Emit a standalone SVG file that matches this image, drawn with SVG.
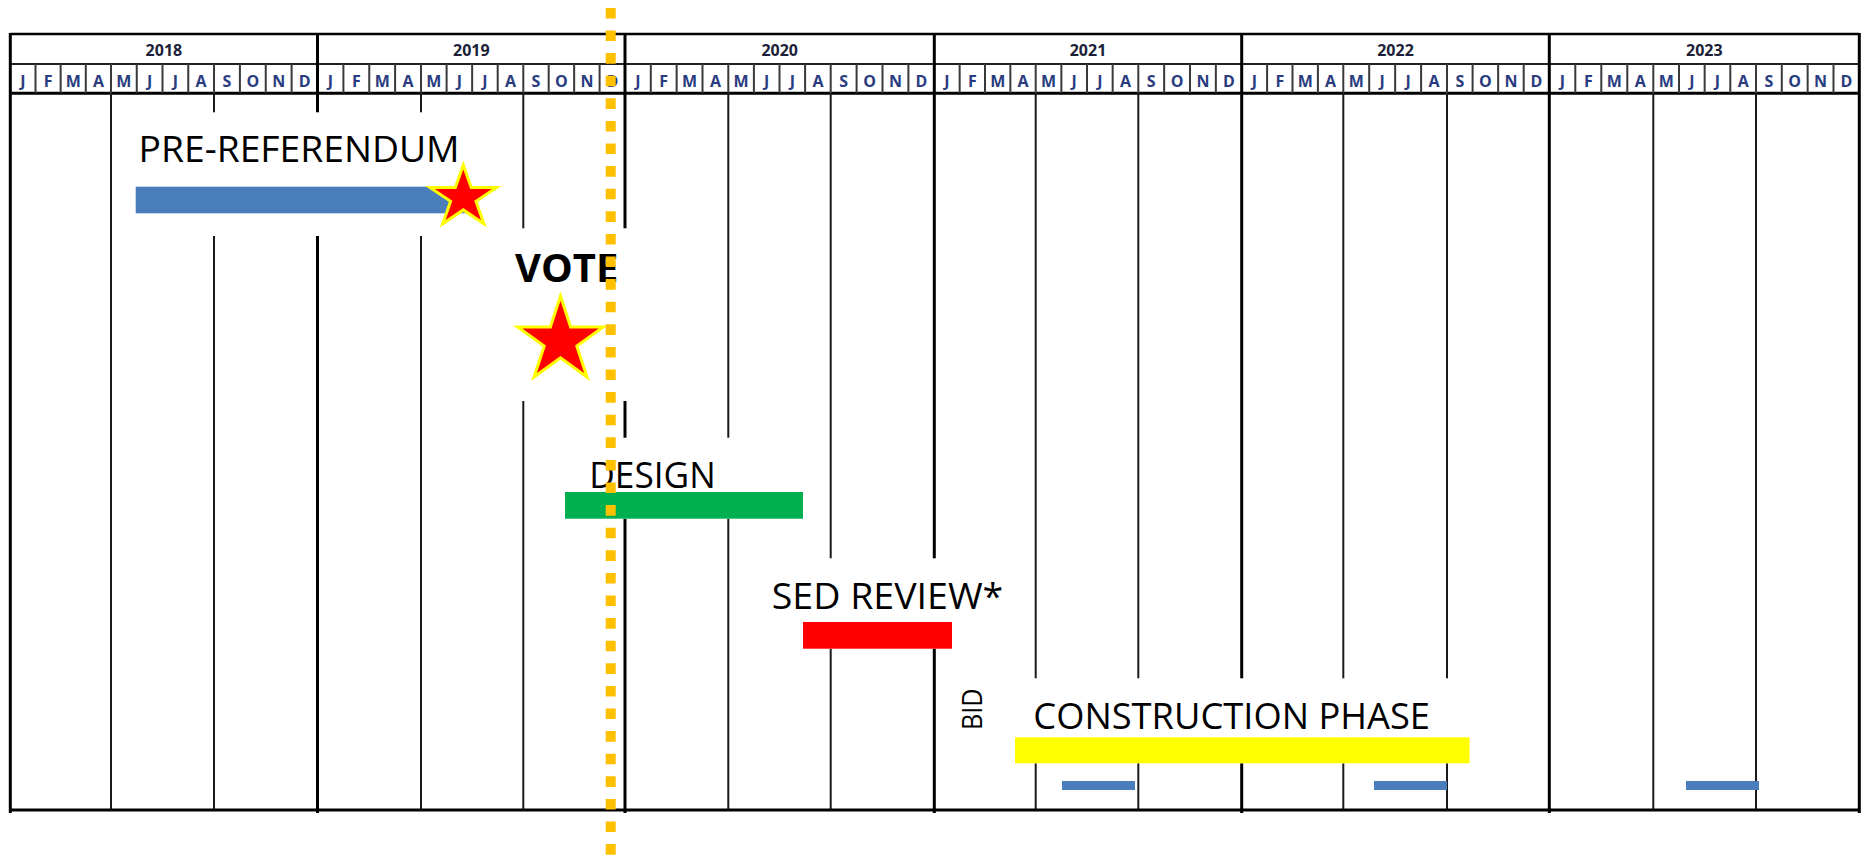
<svg xmlns="http://www.w3.org/2000/svg" width="1864" height="855" viewBox="0 0 1864 855">
<style>
.frame{stroke:#000;stroke-width:2.5;fill:none}
.yr{stroke:#000;stroke-width:3;fill:none}
.qt{stroke:#1a1a1a;stroke-width:2;fill:none}
.mo{stroke:#3a3a3a;stroke-width:2;fill:none}
.mask{fill:#fff}
.yl{font-family:"Open Sans","Liberation Sans",sans-serif;font-weight:bold;font-size:16px;fill:#1c1f3a;text-anchor:middle}
.ml{font-family:"Open Sans","Liberation Sans",sans-serif;font-weight:bold;font-size:16px;fill:#2a3c80;text-anchor:middle}
.lbl{font-family:"Open Sans","Liberation Sans",sans-serif;font-size:37px;fill:#000}
.star{fill:#ff0000;stroke:#ffff00;stroke-width:3;stroke-linejoin:miter;stroke-miterlimit:10}
.today{stroke:#ffc000;stroke-width:10;stroke-dasharray:10.6 12;fill:none}
</style>

<g id="grid">
  <rect x="0" y="0" width="1864" height="855" fill="#fff"/>
  <!-- header horizontal lines -->
  <path class="frame" d="M10.3 34H1859.3"/>
  <path stroke="#222" stroke-width="2" fill="none" d="M10.3 64H1859.3"/>
  <path stroke="#000" stroke-width="3" fill="none" d="M10.3 93.3H1859.3"/>
  <!-- month dividers in header -->
  <path class="mo" d="M35.5 64V93M60.65 64V93M85.8 64V93M111 64V93M136.75 64V93M162.5 64V93M188.25 64V93M214 64V93M239.9 64V93M265.75 64V93M291.6 64V93
  M343.4 64V93M369.25 64V93M395.1 64V93M421 64V93M446.6 64V93M472.15 64V93M497.7 64V93M523.3 64V93M548.7 64V93M574.15 64V93M599.6 64V93
  M650.8 64V93M676.65 64V93M702.5 64V93M728.3 64V93M753.9 64V93M779.5 64V93M805.1 64V93M830.7 64V93M856.6 64V93M882.5 64V93M908.4 64V93
  M959.65 64V93M985 64V93M1010.35 64V93M1035.7 64V93M1061.35 64V93M1087 64V93M1112.65 64V93M1138.3 64V93M1164.15 64V93M1190 64V93M1215.85 64V93
  M1267.1 64V93M1292.5 64V93M1317.9 64V93M1343.3 64V93M1369.2 64V93M1395.15 64V93M1421.1 64V93M1447 64V93M1472.6 64V93M1498.15 64V93M1523.7 64V93
  M1575.3 64V93M1601.3 64V93M1627.3 64V93M1653.3 64V93M1679 64V93M1704.65 64V93M1730.3 64V93M1756 64V93M1781.8 64V93M1807.65 64V93M1833.5 64V93"/>
  <!-- body 4-month lines -->
  <path class="qt" d="M111 93V810M214 93V810M421 93V810M523.3 93V810M728.3 93V810M830.7 93V810M1035.7 93V810M1138.3 93V810M1343.3 93V810M1447 93V810M1653.3 93V810M1756 93V810"/>
  <!-- bottom line -->
  <path stroke="#000" stroke-width="3" fill="none" d="M10.3 810H1859.3"/>
  <!-- year lines -->
  <path class="yr" d="M10.3 33V813M317.5 33V813M625 33V813M934.3 33V813M1241.7 33V813M1549.3 33V813M1859.3 33V813"/>
  <!-- year labels -->
  <text class="yl" x="163.9" y="55.5">2018</text>
  <text class="yl" x="471.3" y="55.5">2019</text>
  <text class="yl" x="779.7" y="55.5">2020</text>
  <text class="yl" x="1088" y="55.5">2021</text>
  <text class="yl" x="1395.5" y="55.5">2022</text>
  <text class="yl" x="1704.3" y="55.5">2023</text>
  <!-- month labels -->
  <text class="ml" y="87" x="22.9 48.1 73.2 98.4 123.9 149.6 175.4 201.1 227 252.8 278.7 304.6">JFMAMJJASOND</text>
  <text class="ml" y="87" x="330.5 356.3 382.2 408.1 433.8 459.4 484.9 510.5 536 561.4 586.9 612.3">JFMAMJJASOND</text>
  <text class="ml" y="87" x="637.9 663.7 689.6 715.4 741.1 766.7 792.3 817.9 843.7 869.6 895.5 921.4">JFMAMJJASOND</text>
  <text class="ml" y="87" x="947 972.3 997.7 1023 1048.5 1074.2 1099.8 1125.5 1151.2 1177.1 1202.9 1228.8">JFMAMJJASOND</text>
  <text class="ml" y="87" x="1254.4 1279.8 1305.2 1330.6 1356.3 1382.2 1408.1 1434.1 1459.8 1485.4 1510.9 1536.5">JFMAMJJASOND</text>
  <text class="ml" y="87" x="1562.3 1588.3 1614.3 1640.3 1666.2 1691.8 1717.5 1743.2 1768.9 1794.7 1820.6 1846.4">JFMAMJJASOND</text>
</g>

<g id="pre-referendum">
  <rect class="mask" x="120" y="112.3" width="388" height="123.7"/>
  <rect x="135.7" y="186.7" width="330" height="26.6" fill="#4a7ebb"/>
  <text class="lbl" x="138.6" y="162.3" textLength="321" lengthAdjust="spacingAndGlyphs">PRE-REFERENDUM</text>
  <polygon class="star" points="463.3,165 471.2,187.5 496.6,187.5 476,201.3 483.9,223.8 463.3,209.9 442.7,223.8 450.6,201.3 430,187.5 455.4,187.5"/>
</g>

<g id="vote">
  <rect class="mask" x="500" y="228.3" width="200" height="172.7"/>
  <text x="515" y="282.3" font-family="Open Sans, Liberation Sans, sans-serif" font-weight="bold" font-size="40" fill="#000" textLength="103.3" lengthAdjust="spacingAndGlyphs">VOTE</text>
  <polygon class="star" points="560.5,296 570.6,327 603.3,327 576.8,346.1 587,377 560.5,357.9 534,377 544.2,346.1 517.7,327 550.4,327"/>
</g>

<g id="design">
  <rect class="mask" x="560" y="437.7" width="255" height="81"/>
  <text class="lbl" x="589.3" y="488.3" textLength="126.4" lengthAdjust="spacingAndGlyphs">DESIGN</text>
  <rect x="565" y="492" width="238" height="26.7" fill="#00b050"/>
</g>

<g id="sed-review">
  <rect class="mask" x="765" y="558.3" width="250" height="90.4"/>
  <text class="lbl" x="771.7" y="609.3" textLength="231.6" lengthAdjust="spacingAndGlyphs">SED REVIEW*</text>
  <rect x="803" y="622" width="149" height="26.7" fill="#ff0000"/>
</g>

<g id="bid">
  <text x="0" y="0" transform="translate(981.7 730) rotate(-90)" font-family="Open Sans, Liberation Sans, sans-serif" font-size="28" fill="#000" textLength="41.7" lengthAdjust="spacingAndGlyphs">BID</text>
</g>

<g id="construction">
  <rect class="mask" x="1000" y="678.3" width="500" height="85"/>
  <text class="lbl" x="1033.3" y="729" textLength="396.7" lengthAdjust="spacingAndGlyphs">CONSTRUCTION PHASE</text>
  <rect x="1015" y="737.3" width="454.6" height="26" fill="#ffff00"/>
</g>

<g id="sub-bars">
  <rect x="1062" y="781" width="73" height="9" fill="#4a7ebb"/>
  <rect x="1374" y="781" width="73" height="9" fill="#4a7ebb"/>
  <rect x="1686" y="781" width="73" height="9" fill="#4a7ebb"/>
</g>

<g id="connectors">
  <path class="today" d="M610.7 7.9V855"/>
</g>
</svg>
